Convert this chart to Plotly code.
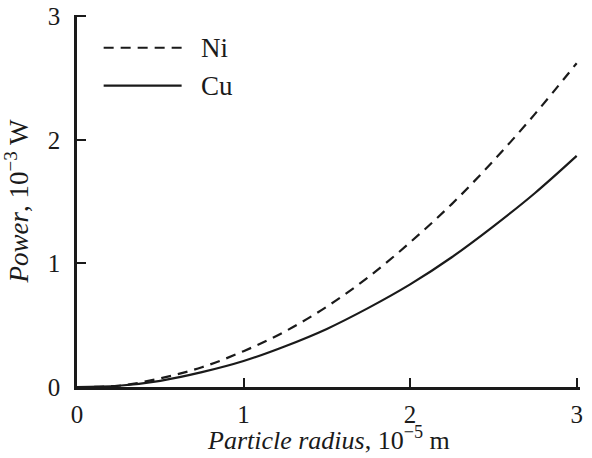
import plotly.graph_objects as go

# Data (radius in 1e-5 m, power in 1e-3 W)
radius = [0, 0.25, 0.5, 0.75, 1.0, 1.25, 1.5, 1.75, 2.0, 2.25, 2.5, 2.75, 3.0]
power_ni = [0, 0.01, 0.07, 0.16, 0.29, 0.45, 0.65, 0.89, 1.17, 1.48, 1.83, 2.21, 2.62]
power_cu = [0, 0.01, 0.05, 0.12, 0.21, 0.33, 0.47, 0.64, 0.83, 1.05, 1.30, 1.57, 1.87]
x_ticks = [0, 1, 2, 3]
y_ticks = [0, 1, 2, 3]

INK = "#1a1a1a"
FONT = "'Liberation Serif', 'Times New Roman', Times, serif"

fig = go.Figure()
fig.add_trace(go.Scatter(x=radius, y=power_ni, mode="lines", name="Ni",
                         line=dict(color=INK, width=2.2, dash="10px,7px", shape="spline"),
                         showlegend=False))
fig.add_trace(go.Scatter(x=radius, y=power_cu, mode="lines", name="Cu",
                         line=dict(color=INK, width=2.2, shape="spline"),
                         showlegend=False))

# Legend drawn manually (long line samples)
legend_items = [("Ni", "10px,7px", 0.912), ("Cu", "solid", 0.81)]
for label, dash, yp in legend_items:
    fig.add_shape(type="line", xref="paper", yref="paper",
                  x0=0.053, x1=0.208, y0=yp, y1=yp,
                  line=dict(color=INK, width=2.2, dash=dash))
    fig.add_annotation(text=label, xref="paper", yref="paper", x=0.243, y=yp,
                       xanchor="left", yanchor="middle", showarrow=False,
                       font=dict(family=FONT, size=27, color=INK))

# x-axis title as an annotation (precise placement)
fig.add_annotation(text="<i>Particle radius</i>, 10<sup>−5</sup> m",
                   xref="paper", yref="paper", x=0.5, y=0, xanchor="center",
                   yanchor="middle", yshift=-51, showarrow=False,
                   font=dict(family=FONT, size=26, color=INK))

axis_common = dict(showgrid=False, zeroline=False, showline=True, linecolor=INK,
                   linewidth=2.5, ticks="inside", ticklen=9, tickwidth=1.5,
                   tickcolor=INK, tickfont=dict(family=FONT, size=25, color=INK),
                   mirror=False, automargin=False)

fig.update_layout(
    width=592, height=458,
    margin=dict(l=77, r=12, t=15, b=71),
    plot_bgcolor="white", paper_bgcolor="white",
    font=dict(family=FONT, color=INK),
    xaxis=dict(range=[0, 3.02], tickvals=x_ticks, ticktext=[str(v) for v in x_ticks],
               ticklabelstandoff=3, **axis_common),
    yaxis=dict(range=[0, 3.01], tickvals=y_ticks, ticktext=[str(v) for v in y_ticks],
               title=dict(text="<i>Power</i>, 10<sup>−3</sup> W",
                          font=dict(family=FONT, size=27, color=INK)),
               ticklabelstandoff=9, **axis_common),
)

fig.write_html("out.html")
